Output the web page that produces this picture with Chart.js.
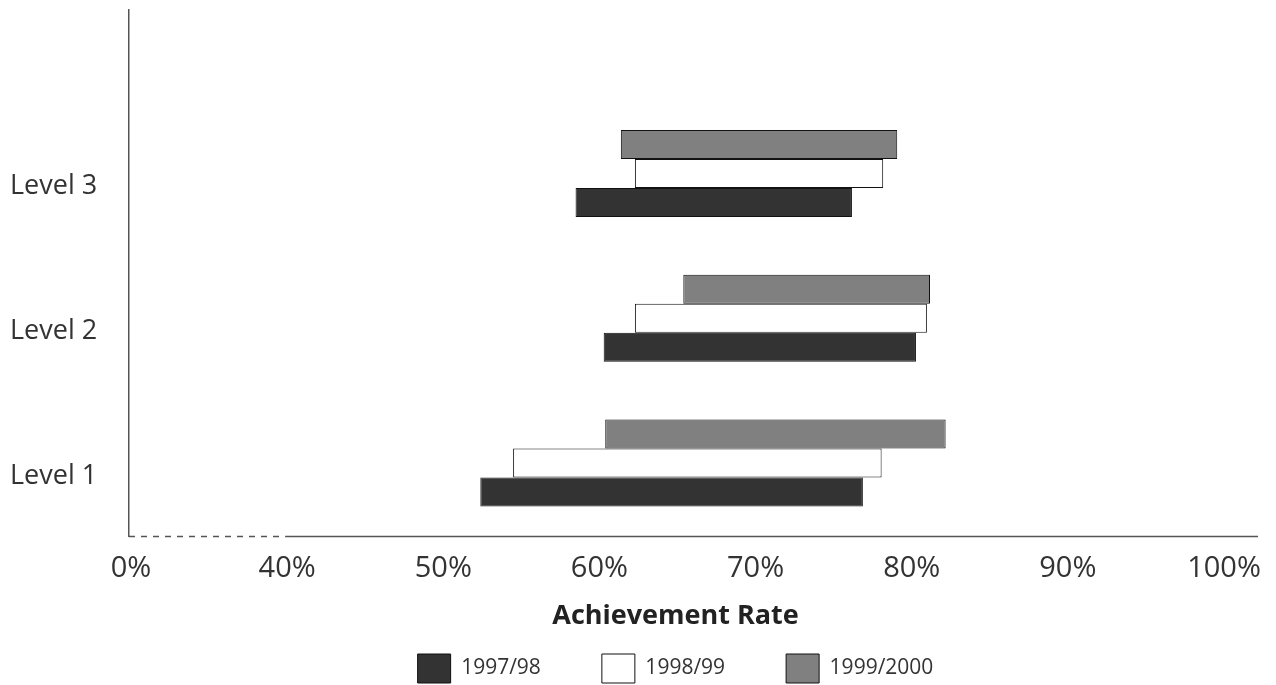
<!DOCTYPE html>
<html>
<head>
<meta charset="utf-8">
<script src="https://cdn.jsdelivr.net/npm/chart.js@4"></script>
<style>
  html, body { margin: 0; padding: 0; background: #fff; }
  #wrap { width: 1276px; height: 685px; position: relative; }
</style>
</head>
<body>
<div id="wrap"><canvas id="chart"></canvas></div>
<script>
// levels from bottom to top (y = 1, 2, 3)
const categories = ["Level 1", "Level 2", "Level 3"];

// floating bars: [start %, end %]
const rates9798 = [[52.5, 77.0], [60.4, 80.4], [58.6, 76.3]];
const rates9899 = [[54.6, 78.2], [62.4, 81.1], [62.4, 78.3]];
const rates9900 = [[60.5, 82.3], [65.5, 81.3], [61.5, 79.2]];

// broken axis: the first tick stands for 0%
const xTickValues = [30, 40, 50, 60, 70, 80, 90, 100];
const xTickLabels = ["0%", "40%", "50%", "60%", "70%", "80%", "90%", "100%"];
const axisBreak = [30, 40];

const FONT = "'Open Sans', 'Noto Sans', sans-serif";
const TEXT = "#333";
const AXIS = "#555";

const toPoints = values => values.map((v, i) => ({ y: i + 1, x: v }));

// draws the x axis line: dashed over the break, solid after it
const brokenAxis = {
    id: "brokenAxis",
    beforeDatasetsDraw(chart, args, opts) {
        const { ctx, chartArea, scales: { x } } = chart;
        const y = Math.round(chartArea.bottom) + 0.5;
        const from = x.getPixelForValue(axisBreak[0]);
        const to = x.getPixelForValue(axisBreak[1]);
        ctx.save();
        ctx.strokeStyle = AXIS;
        ctx.lineWidth = 1.5;
        ctx.setLineDash([6, 6]);
        ctx.beginPath();
        ctx.moveTo(from, y);
        ctx.lineTo(to - 4, y);
        ctx.stroke();
        ctx.setLineDash([]);
        ctx.beginPath();
        ctx.moveTo(to, y);
        ctx.lineTo(chartArea.right + opts.overhang, y);
        ctx.stroke();
        ctx.restore();
    }
};

const barStyle = {
    borderColor: "#111",
    borderWidth: 1,
    borderSkipped: false,
    categoryPercentage: 0.6,
    barPercentage: 1.0
};

new Chart(document.getElementById("chart"), {
    type: "bar",
    plugins: [brokenAxis],
    data: {
        // top bar first inside each group
        datasets: [
            { label: "1999/2000", data: toPoints(rates9900), backgroundColor: "#808080", ...barStyle },
            { label: "1998/99", data: toPoints(rates9899), backgroundColor: "#ffffff", ...barStyle },
            { label: "1997/98", data: toPoints(rates9798), backgroundColor: "#333333", ...barStyle }
        ]
    },
    options: {
        indexAxis: "y",
        responsive: true,
        maintainAspectRatio: false,
        animation: false,
        layout: { padding: { top: 10, left: 10, right: 54, bottom: -8 } },
        plugins: {
            tooltip: { enabled: false },
            brokenAxis: { overhang: 36 },
            legend: {
                position: "bottom",
                fullSize: false,
                reverse: true,
                labels: {
                    boxWidth: 33,
                    boxHeight: 29,
                    padding: 61,
                    color: TEXT,
                    font: { family: FONT, size: 21 }
                }
            }
        },
        scales: {
            x: {
                type: "linear",
                min: 30,
                max: 100,
                bounds: "data",
                grid: { display: false, drawTicks: false },
                border: { display: false },
                afterBuildTicks: scale => {
                    scale.ticks = xTickValues.map(value => ({ value }));
                },
                afterFit: scale => {
                    scale.height = 57;
                    scale.paddingLeft = 0;
                    scale.paddingRight = 0;
                },
                ticks: {
                    padding: 15,
                    labelOffset: 2,
                    color: TEXT,
                    font: { family: FONT, size: 29 },
                    callback: value => xTickLabels[xTickValues.indexOf(value)]
                },
                title: {
                    display: true,
                    text: "Achievement Rate",
                    color: "#222",
                    font: { family: FONT, size: 27, weight: "bold" },
                    padding: { top: 0, bottom: -40 }
                }
            },
            y: {
                type: "linear",
                min: 0.4955,
                max: 4.13,
                offset: false,
                bounds: "data",
                grid: { display: false, drawTicks: false, offset: false },
                border: { display: true, color: AXIS, width: 1.5 },
                afterBuildTicks: scale => {
                    scale.ticks = categories.map((_, i) => ({ value: i + 1 }));
                },
                afterFit: scale => {
                    scale.width = 119;
                    scale.paddingTop = 0;
                    scale.paddingBottom = 0;
                },
                ticks: {
                    crossAlign: "far",
                    labelOffset: 13,
                    color: TEXT,
                    font: { family: FONT, size: 27 },
                    callback: value => categories[value - 1]
                }
            }
        }
    }
});
</script>
</body>
</html>
